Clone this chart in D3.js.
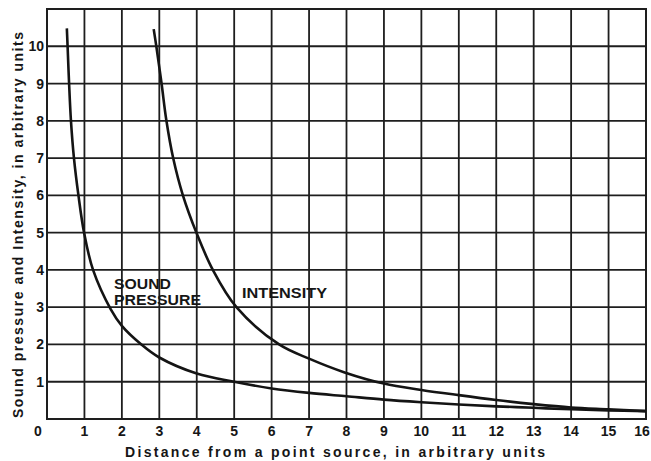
<!DOCTYPE html>
<html>
<head>
<meta charset="utf-8">
<script src="https://cdn.jsdelivr.net/npm/d3@7"></script>
<style>
  html, body { margin: 0; padding: 0; background: #fff; }
  svg { display: block; }
  text { font-family: "Liberation Sans", Arial, sans-serif; font-weight: bold; fill: #161616; }
</style>
</head>
<body>
<svg id="chart" width="651" height="461"></svg>
<script>
// ---- data ----
const xTicks = [1, 2, 3, 4, 5, 6, 7, 8, 9, 10, 11, 12, 13, 14, 15, 16];
const yTicks = [1, 2, 3, 4, 5, 6, 7, 8, 9, 10];
const originLabel = "0";

// Sound pressure curve (distance, value)
const pressureR = [0.53, 0.55, 0.59, 0.64, 0.72, 0.84, 0.99, 1.23, 1.70, 2.0, 2.52, 3.0, 4.0, 5.0, 6.0, 7.0, 8.0, 9.0, 10, 11, 12, 13, 14, 15, 16];
const pressureV = [10.48, 10, 9, 8, 7, 6, 5, 4, 2.95, 2.5, 2, 1.65, 1.22, 1.0, 0.82, 0.70, 0.61, 0.52, 0.45, 0.39, 0.34, 0.30, 0.26, 0.23, 0.21];

// Intensity curve (distance, value)
const intensityR = [2.85, 2.92, 3.06, 3.19, 3.37, 3.63, 3.99, 4.43, 5.06, 6.2, 7.0, 7.95, 9, 10, 11, 12, 13, 14, 15, 16];
const intensityV = [10.46, 10, 9, 8, 7, 6, 5, 4, 3, 2, 1.62, 1.25, 0.95, 0.78, 0.64, 0.51, 0.40, 0.31, 0.26, 0.21];

const xTitle = "Distance from a point source, in arbitrary units";
const yTitle = "Sound pressure and Intensity, in arbitrary units";
const pressureLabel = ["SOUND", "PRESSURE"];
const intensityLabel = "INTENSITY";

// ---- drawing ----
const svg = d3.select("#chart");
const x = d3.scaleLinear().domain([0, 16]).range([47, 646]);
const y = d3.scaleLinear().domain([0, 11]).range([419, 9]);
const ink = "#1e1e1e";

// grid
const g = svg.append("g");
g.selectAll("line.v").data(xTicks.slice(0, -1)).join("line")
  .attr("x1", d => x(d)).attr("x2", d => x(d))
  .attr("y1", y(11)).attr("y2", y(0))
  .attr("stroke", ink).attr("stroke-width", 1.8);
g.selectAll("line.h").data(yTicks).join("line")
  .attr("x1", x(0)).attr("x2", x(16))
  .attr("y1", d => y(d)).attr("y2", d => y(d))
  .attr("stroke", ink).attr("stroke-width", 1.8);
// frame
g.append("rect")
  .attr("x", x(0)).attr("y", y(11))
  .attr("width", x(16) - x(0)).attr("height", y(0) - y(11))
  .attr("fill", "none").attr("stroke", ink).attr("stroke-width", 2);

// curves
const line = d3.line().x(d => x(d[0])).y(d => y(d[1])).curve(d3.curveCatmullRom.alpha(0.5));
const pressure = pressureR.map((r, i) => [r, pressureV[i]]);
const intensity = intensityR.map((r, i) => [r, intensityV[i]]);
[pressure, intensity].forEach(data => {
  svg.append("path").attr("d", line(data))
    .attr("fill", "none").attr("stroke", "#141414").attr("stroke-width", 2.6);
});

// tick labels
svg.selectAll("text.xt").data(xTicks).join("text")
  .attr("x", d => Math.min(x(d), 642)).attr("y", 436)
  .attr("text-anchor", "middle").attr("font-size", 14)
  .text(d => d);
svg.append("text").attr("x", x(0) - 9).attr("y", 436)
  .attr("text-anchor", "middle").attr("font-size", 14).text(originLabel);
svg.selectAll("text.yt").data(yTicks).join("text")
  .attr("x", 44).attr("y", d => y(d))
  .attr("dy", "0.36em")
  .attr("text-anchor", "end").attr("font-size", 14)
  .text(d => d);

// axis titles
svg.append("text").attr("x", 335).attr("y", 457)
  .attr("text-anchor", "middle").attr("font-size", 14)
  .attr("textLength", 420).attr("lengthAdjust", "spacing")
  .text(xTitle);
svg.append("text")
  .attr("transform", "translate(23,225) rotate(-90)")
  .attr("text-anchor", "middle").attr("font-size", 14)
  .attr("textLength", 386).attr("lengthAdjust", "spacing")
  .text(yTitle);

// curve labels
svg.append("text").attr("x", 114).attr("y", 289).attr("font-size", 14)
  .attr("textLength", 57).attr("lengthAdjust", "spacingAndGlyphs").text(pressureLabel[0]);
svg.append("text").attr("x", 114).attr("y", 305).attr("font-size", 14)
  .attr("textLength", 87).attr("lengthAdjust", "spacingAndGlyphs").text(pressureLabel[1]);
svg.append("text").attr("x", 242).attr("y", 298).attr("font-size", 15)
  .attr("textLength", 85).attr("lengthAdjust", "spacingAndGlyphs").text(intensityLabel);
</script>
</body>
</html>
